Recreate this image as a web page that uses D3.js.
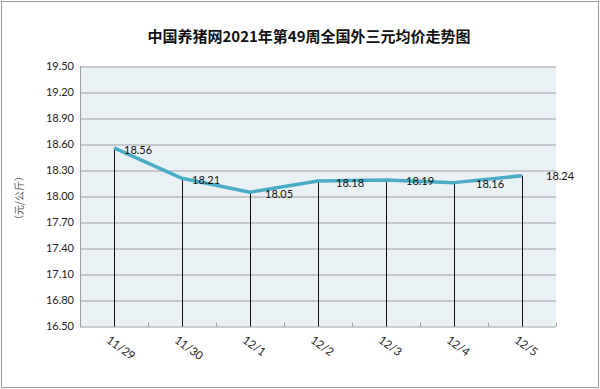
<!DOCTYPE html>
<meta charset="utf-8">
<script src="https://d3js.org/d3.v7.min.js"></script>
<style>
  body { margin: 0; background: #fff; }
</style>
<div id="my_dataviz"></div>
<script>

  // data
  var days = ["11/29", "11/30", "12/1", "12/2", "12/3", "12/4", "12/5"]
  var prices = [18.56, 18.21, 18.05, 18.18, 18.19, 18.16, 18.24]
  var yTicks = [16.50, 16.80, 17.10, 17.40, 17.70, 18.00, 18.30, 18.60, 18.90, 19.20, 19.50]

  var W = 600, H = 389
  var margin = {top: 66.5, right: 44, bottom: 62.5, left: 80}
  var width = W - margin.left - margin.right,
      height = H - margin.top - margin.bottom

  var svg = d3.select("#my_dataviz")
    .append("svg")
      .attr("width", W)
      .attr("height", H)

  // outer frame
  svg.append("rect")
    .attr("x", 1.5).attr("y", 1.5)
    .attr("width", W - 3).attr("height", H - 3)
    .style("fill", "#fff")
    .style("stroke", "#9a9a9a")
    .style("stroke-width", 1)

  // title
  svg.append("text")
    .attr("x", 309)
    .attr("y", 42)
    .attr("text-anchor", "middle")
    .style("font-family", "'Noto Sans CJK SC', sans-serif")
    .style("font-weight", "bold")
    .style("font-size", "15px")
    .style("fill", "#111")
    .text("中国养猪网2021年第49周全国外三元均价走势图")

  // y axis label
  svg.append("text")
    .attr("transform", "translate(19,198) rotate(-90)")
    .attr("text-anchor", "middle")
    .attr("dy", "0.35em")
    .style("font-family", "'Noto Sans CJK SC', sans-serif")
    .style("font-size", "10px")
    .style("fill", "#555")
    .text("（元/公斤）")

  var g = svg.append("g")
    .attr("transform", "translate(" + margin.left + "," + margin.top + ")")

  var x = d3.scaleBand()
    .range([0, width])
    .domain(days)

  var y = d3.scaleLinear()
    .range([height, 0])
    .domain([16.5, 19.5])

  // plot background
  g.append("rect")
    .attr("width", width)
    .attr("height", height)
    .style("fill", "#eaf1f5")

  // horizontal grid
  g.selectAll(".grid")
    .data(yTicks)
    .enter()
    .append("line")
      .attr("x1", 0)
      .attr("x2", width)
      .attr("y1", function(d) { return Math.round(y(d)) + 0.5 })
      .attr("y2", function(d) { return Math.round(y(d)) + 0.5 })
      .style("stroke", "#a0a0a0")
      .style("stroke-width", 1)

  // left axis line + labels
  g.append("line")
    .attr("x1", 0.5).attr("x2", 0.5)
    .attr("y1", 0).attr("y2", height)
    .style("stroke", "#a0a0a0")

  g.selectAll(".ylab")
    .data(yTicks)
    .enter()
    .append("text")
      .attr("x", -6)
      .attr("y", function(d) { return y(d) })
      .attr("dy", "0.35em")
      .attr("text-anchor", "end")
      .style("font-family", "Lato, 'Open Sans', sans-serif")
      .style("font-size", "11px")
      .style("fill", "#222")
      .text(function(d) { return d.toFixed(2) })

  // small ticks on the bottom axis between categories
  var bounds = d3.range(days.length + 1).map(function(i) { return i * x.bandwidth() })
  g.selectAll(".xtick")
    .data(bounds)
    .enter()
    .append("line")
      .attr("x1", function(d) { return Math.round(d) + 0.5 })
      .attr("x2", function(d) { return Math.round(d) + 0.5 })
      .attr("y1", height - 4)
      .attr("y2", height)
      .style("stroke", "#a0a0a0")

  var cx = function(d) { return x(d) + x.bandwidth() / 2 }

  // drop lines
  g.selectAll(".drop")
    .data(days)
    .enter()
    .append("line")
      .attr("x1", function(d) { return Math.round(cx(d)) + 0.5 })
      .attr("x2", function(d) { return Math.round(cx(d)) + 0.5 })
      .attr("y1", function(d, i) { return y(prices[i]) })
      .attr("y2", height)
      .style("stroke", "#111")
      .style("stroke-width", 1)

  // the price line
  var line = d3.line()
    .x(function(d, i) { return cx(days[i]) })
    .y(function(d) { return y(d) })

  g.append("path")
    .datum(prices)
    .attr("d", line)
    .style("fill", "none")
    .style("stroke", "#4aacc6")
    .style("stroke-width", 3.5)
    .style("stroke-linejoin", "round")

  // data labels (label nudges like the excel original)
  var labelDx = [10, 10, 15, 18, 20, 22, 24]
  var labelDy = [2, 2, 2, 2, 1, 2, 0]
  g.selectAll(".vlab")
    .data(prices)
    .enter()
    .append("text")
      .attr("x", function(d, i) { return cx(days[i]) + labelDx[i] })
      .attr("y", function(d, i) { return y(d) + labelDy[i] })
      .attr("dy", "0.35em")
      .style("font-family", "Lato, 'Open Sans', sans-serif")
      .style("font-size", "11px")
      .style("fill", "#111")
      .text(function(d) { return d.toFixed(2) })

  // x labels, slanted
  g.selectAll(".xlab")
    .data(days)
    .enter()
    .append("text")
      .attr("transform", function(d) {
        return "translate(" + (cx(d) - 6) + "," + (height + 12) + ") rotate(36)"
      })
      .attr("dy", "0.35em")
      .style("font-family", "Lato, 'Open Sans', sans-serif")
      .style("font-size", "11.5px")
      .style("fill", "#222")
      .text(function(d) { return d })

</script>
